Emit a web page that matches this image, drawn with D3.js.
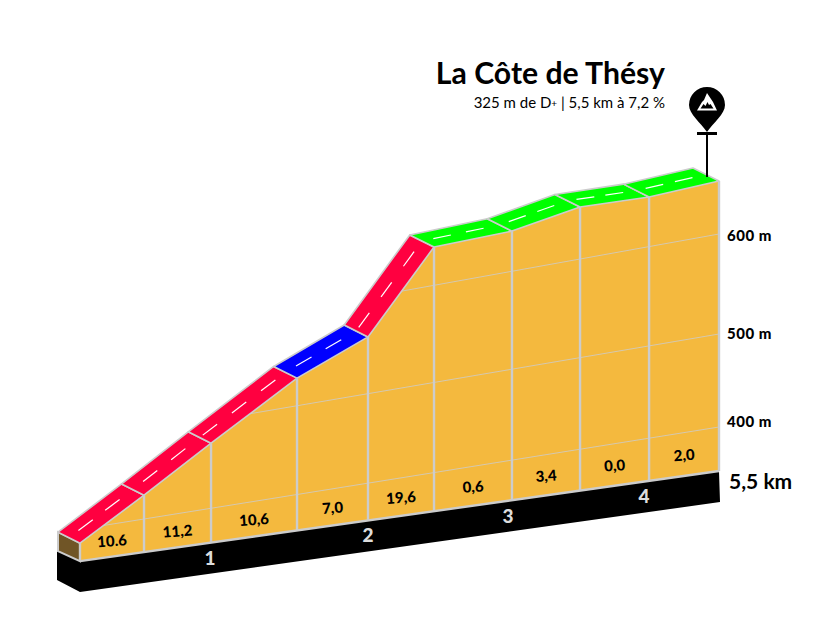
<!DOCTYPE html>
<html>
<head>
<meta charset="utf-8">
<script src="https://cdn.jsdelivr.net/npm/d3@7"></script>
<style>
body { margin: 0; background: #fff; }
text { font-family: Lato, sans-serif; fill: #000; }
</style>
</head>
<body>
<svg class="chart"></svg>
<script>
// values
var title = "La Côte de Thésy";
var subtitle = "325 m de D";
var subtitleEnd = " | 5,5 km à 7,2 %";
var distances = [0, 0.551, 1.128, 1.868, 2.479, 3.047, 3.718, 4.304, 4.898, 5.5];
var elevations = [380, 427.3, 474, 528.8, 558.8, 639.4, 641, 652.7, 650, 653];
var gradients = ["10.6", "11,2", "10,6", "7,0", "19,6", "0,6", "3,4", "0,0", "2,0"];
var roadColors = ["#ff0040", "#ff0040", "#ff0040", "#0000ff", "#ff0040", "#00ff00", "#00ff00", "#00ff00", "#00ff00"];
var kmPositions = [1.119, 2.478, 3.683, 4.854];
var kmLabels = ["1", "2", "3", "4"];
var endLabel = "5,5 km";
var altTicks = [400, 500, 600];

var width = 827;
var height = 637;
var svg = d3.select(".chart").attr("width", width).attr("height", height).style("display", "block");

var grey = "#cccccc";
var orange = "#f4b93e";

var x = d3.scaleLinear().domain([0, 5.5]).range([80, 719]);
// height at the right end of the profile
var yRight = d3.scaleLinear().domain([354, 400, 500, 600, 700]).range([471, 427, 334, 234, 134]);
// the picture is drawn in perspective: lines tilt more the higher they are
var tilt = d3.scaleLinear().domain([354, 400, 600]).range([0.141, 0.16, 0.18]);

function px(km) { return x(km); }
function py(km, m) { return yRight(m) + tilt(m) * (x.range()[1] - x(km)); }

// road depth, a little wider at the far end
var depthX = d3.scaleLinear().domain([0, 5.5]).range([-22, -26]);
var depthY = d3.scaleLinear().domain([0, 5.5]).range([-11, -13]);

var line = d3.line();
var front = distances.map(function(d, i) { return [px(d), py(d, elevations[i])]; });
var back = distances.map(function(d, i) { return [px(d) + depthX(d), py(d, elevations[i]) + depthY(d)]; });
var km0 = distances[0], kmEnd = distances[distances.length - 1];
var baseThick = 30;

// black base
var baseGroundLeft = [px(km0), py(km0, 354)];
var baseGroundRight = [px(kmEnd), py(kmEnd, 354)];
svg.append("path")
  .attr("d", line([
    [baseGroundLeft[0] - 23, baseGroundLeft[1] - 10],
    baseGroundLeft,
    baseGroundRight,
    [baseGroundRight[0] + 1, baseGroundRight[1] + baseThick + 1],
    [baseGroundLeft[0], baseGroundLeft[1] + baseThick + 1],
    [baseGroundLeft[0] - 23, baseGroundLeft[1] + 19]
  ]) + "Z")
  .attr("fill", "#000");

// brown front of the road
svg.append("path")
  .attr("d", line([back[0], front[0], baseGroundLeft, [back[0][0], baseGroundLeft[1] - 10]]) + "Z")
  .attr("fill", "#705526")
  .attr("stroke", grey)
  .attr("stroke-width", 2);

// profile area
var areaPts = front.concat([baseGroundRight, baseGroundLeft]);
svg.append("clipPath").attr("id", "profile")
  .append("path").attr("d", line(areaPts) + "Z");
svg.append("path")
  .attr("d", line(areaPts) + "Z")
  .attr("fill", orange);

// altitude grid
svg.append("g").attr("clip-path", "url(#profile)")
  .selectAll("line").data(altTicks).enter().append("line")
  .attr("x1", px(km0))
  .attr("y1", function(d) { return py(km0, d); })
  .attr("x2", px(kmEnd))
  .attr("y2", function(d) { return py(kmEnd, d); })
  .attr("stroke", grey)
  .attr("stroke-opacity", 0.8)
  .attr("stroke-width", 1);

// verticals and outline
svg.append("g").selectAll("line").data(distances).enter().append("line")
  .attr("x1", function(d) { return px(d); })
  .attr("x2", function(d) { return px(d); })
  .attr("y1", function(d, i) { return front[i][1]; })
  .attr("y2", function(d) { return py(d, 354); })
  .attr("stroke", grey)
  .attr("stroke-width", 2.4);
svg.append("path")
  .attr("d", line([baseGroundLeft, baseGroundRight]))
  .attr("stroke", grey)
  .attr("stroke-width", 2.4)
  .attr("fill", "none");

// road segments
var segments = gradients.map(function(g, i) { return i; });
svg.append("g").selectAll("path").data(segments).enter().append("path")
  .attr("d", function(i) { return line([front[i], front[i + 1], back[i + 1], back[i]]) + "Z"; })
  .attr("fill", function(i) { return roadColors[i]; })
  .attr("stroke", grey)
  .attr("stroke-width", 1.6)
  .attr("stroke-linejoin", "round");

// white dashes along the middle of the road
var dashLength = 18;
segments.forEach(function(i) {
  var a = [(front[i][0] + back[i][0]) / 2, (front[i][1] + back[i][1]) / 2];
  var b = [(front[i + 1][0] + back[i + 1][0]) / 2, (front[i + 1][1] + back[i + 1][1]) / 2];
  var len = Math.hypot(b[0] - a[0], b[1] - a[1]);
  var spots = len < 100 ? [0.26, 0.68] : [0.12, 0.46, 0.8];
  spots.forEach(function(t) {
    var half = dashLength / 2 / len;
    svg.append("line")
      .attr("x1", a[0] + (b[0] - a[0]) * (t - half))
      .attr("y1", a[1] + (b[1] - a[1]) * (t - half))
      .attr("x2", a[0] + (b[0] - a[0]) * (t + half))
      .attr("y2", a[1] + (b[1] - a[1]) * (t + half))
      .attr("stroke", "#fff")
      .attr("stroke-width", 1.2);
  });
});

// gradient labels
svg.append("g").selectAll("text").data(gradients).enter().append("text")
  .attr("transform", function(d, i) {
    var mid = (distances[i] + distances[i + 1]) / 2;
    return "translate(" + px(mid) + "," + py(mid, 376) + ") rotate(-4)";
  })
  .attr("text-anchor", "middle")
  .attr("dy", "0.35em")
  .attr("font-size", 15)
  .attr("font-weight", 900)
  .text(function(d) { return d; });

// km labels on the base
svg.append("g").selectAll("text").data(kmLabels).enter().append("text")
  .attr("x", function(d, i) { return px(kmPositions[i]); })
  .attr("y", function(d, i) { return py(kmPositions[i], 354) + 15; })
  .attr("text-anchor", "middle")
  .attr("dy", "0.36em")
  .attr("font-size", 19)
  .attr("font-weight", 900)
  .style("fill", "#dddddd")
  .text(function(d) { return d; });

svg.append("text")
  .attr("x", 729)
  .attr("y", 489)
  .attr("font-size", 21)
  .attr("font-weight", 700)
  .text(endLabel);

// altitude labels
var tickNudge = [-5, 0, 2];
svg.append("g").selectAll("text").data(altTicks).enter().append("text")
  .attr("x", 727)
  .attr("y", function(d, i) { return py(kmEnd, d) + tickNudge[i]; })
  .attr("dy", "0.35em")
  .attr("font-size", 15)
  .attr("font-weight", 900)
  .attr("letter-spacing", 0.5)
  .text(function(d) { return d + " m"; });

// title
svg.append("text")
  .attr("x", 665)
  .attr("y", 84)
  .attr("text-anchor", "end")
  .attr("font-size", 30.2)
  .attr("font-weight", 700)
  .text(title);

var sub = svg.append("text")
  .attr("x", 665)
  .attr("y", 108)
  .attr("text-anchor", "end")
  .attr("font-size", 15);
sub.append("tspan").text(subtitle);
sub.append("tspan").attr("font-size", 10).attr("dy", -1).text("+");
sub.append("tspan").attr("dy", 1).text(subtitleEnd);

// summit pin
var pin = svg.append("g")
  .attr("transform", "translate(" + (px(kmEnd) - 12) + ",105)");
pin.append("line")
  .attr("y1", 28).attr("y2", py(kmEnd, elevations[elevations.length - 1]) - 4 - 105)
  .attr("stroke", "#000").attr("stroke-width", 2);
pin.append("path")
  .attr("d", "M-18,0A18,18 0 1 1 18,0C18,9 6,18 0,27C-6,18 -18,9 -18,0Z")
  .attr("fill", "#000");
pin.append("rect")
  .attr("x", -10).attr("y", 27).attr("width", 20).attr("height", 3).attr("fill", "#000");
pin.append("path")
  .attr("d", "M-10,5.5L-5,-3L-3,-5L0,-12L4,-6L6,-3L10,5.5Z")
  .attr("fill", "#fff");
pin.append("path")
  .attr("d", "M-6.5,3.5L-3.5,-1L-1.5,1L0.5,-3L2,0L3.5,-1L6.5,3.5Z")
  .attr("fill", "#000");
</script>
</body>
</html>
